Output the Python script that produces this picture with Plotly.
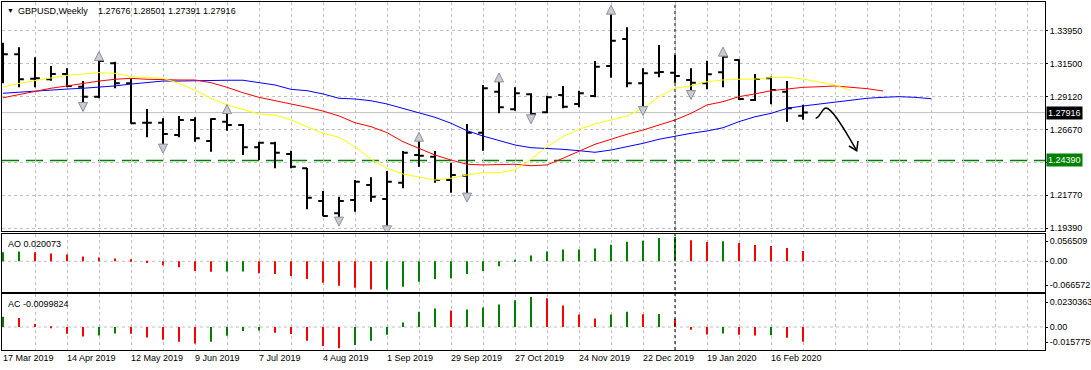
import pandas as pd
import plotly.graph_objects as go

# ---------------- data ----------------
START_DATE = "2019-03-17"
N_SLOTS = 66          # weekly slots spanned by the visible time axis

OPEN = [1.3253, 1.3221, 1.3041, 1.3037, 1.3076, 1.2982, 1.2909, 1.3155, 1.3007, 1.2717,
        1.2717, 1.2627, 1.2737, 1.2582, 1.2725, 1.2700, 1.2536, 1.2565, 1.2487, 1.2381,
        1.2140, 1.2050, 1.2148, 1.2258, 1.2155, 1.2275, 1.2479, 1.2467, 1.2295, 1.2327,
        1.2643, 1.2946, 1.2816, 1.2926, 1.2794, 1.2921, 1.2855, 1.2914, 1.3135, 1.3334,
        1.3007, 1.3086, 1.3086, 1.3032, 1.3007, 1.3089, 1.3179, 1.2884, 1.3044, 1.2946,
        1.27676]
HIGH = [1.3307, 1.3273, 1.3199, 1.3135, 1.3118, 1.3024, 1.3176, 1.3167, 1.3044, 1.2818,
        1.2750, 1.2767, 1.2757, 1.2750, 1.2786, 1.2708, 1.2577, 1.2577, 1.2511, 1.2384,
        1.2214, 1.2172, 1.2295, 1.2315, 1.2361, 1.2509, 1.2582, 1.2509, 1.2422, 1.2708,
        1.2995, 1.3019, 1.2978, 1.2934, 1.2916, 1.2988, 1.2953, 1.3172, 1.3518, 1.3420,
        1.3118, 1.3290, 1.3216, 1.3118, 1.3174, 1.3209, 1.3184, 1.3076, 1.3056, 1.3024,
        1.28501]
LOW = [1.3007, 1.2978, 1.2978, 1.3027, 1.2978, 1.2865, 1.2897, 1.2971, 1.2710, 1.2610,
       1.2558, 1.2610, 1.2577, 1.2504, 1.2658, 1.2479, 1.2442, 1.2381, 1.2381, 1.2079,
       1.2028, 1.2020, 1.2061, 1.2135, 1.1956, 1.2234, 1.2393, 1.2275, 1.2201, 1.2197,
       1.2511, 1.2786, 1.2806, 1.2774, 1.2786, 1.2823, 1.2831, 1.2904, 1.3049, 1.2978,
       1.2835, 1.3052, 1.3012, 1.2953, 1.2963, 1.2978, 1.2884, 1.2877, 1.2853, 1.2725,
       1.27391]
CLOSE = [1.3221, 1.3037, 1.3044, 1.3076, 1.2988, 1.2909, 1.3172, 1.3007, 1.2713, 1.2717,
         1.2634, 1.2737, 1.2602, 1.2744, 1.2700, 1.2536, 1.2570, 1.2496, 1.2393, 1.2165,
         1.2030, 1.2140, 1.2282, 1.2172, 1.2282, 1.2496, 1.2474, 1.2295, 1.2332, 1.2644,
         1.2971, 1.2831, 1.2934, 1.2781, 1.2904, 1.2835, 1.2934, 1.3130, 1.3321, 1.3007,
         1.3081, 1.3090, 1.3061, 1.3012, 1.3074, 1.3203, 1.2892, 1.3039, 1.2958, 1.2823,
         1.27916]

# Alligator lines (drawn shifted into the future)
LIPS = [1.2980, 1.3007, 1.3027, 1.3049, 1.3066, 1.3076, 1.3086, 1.3081, 1.3056, 1.3049,
        1.3044, 1.3007, 1.2958, 1.2897, 1.2848, 1.2816, 1.2781, 1.2774, 1.2737, 1.2688,
        1.2639, 1.2610, 1.2540, 1.2448, 1.2381, 1.2339, 1.2315, 1.2295, 1.2308, 1.2332,
        1.2349, 1.2349, 1.2369, 1.2448, 1.2540, 1.2614, 1.2669, 1.2708, 1.2737, 1.2767,
        1.2823, 1.2909, 1.2971, 1.2988, 1.3019, 1.3032, 1.3037, 1.3039, 1.3049, 1.3052,
        1.3039, 1.3019, 1.2995, 1.2953]
TEETH = [1.2901, 1.2926, 1.2951, 1.2971, 1.2988, 1.3007, 1.3024, 1.3037, 1.3044, 1.3037,
         1.3032, 1.3032, 1.3032, 1.3012, 1.2978, 1.2938, 1.2904, 1.2877, 1.2855, 1.2831,
         1.2803, 1.2767, 1.2717, 1.2688, 1.2644, 1.2577, 1.2529, 1.2479, 1.2442, 1.2411,
         1.2406, 1.2411, 1.2411, 1.2400, 1.2406, 1.2455, 1.2504, 1.2558, 1.2595, 1.2632,
         1.2663, 1.2700, 1.2737, 1.2786, 1.2848, 1.2872, 1.2909, 1.2929, 1.2953, 1.2965,
         1.2978, 1.2982, 1.2988, 1.2978, 1.2968, 1.2951]
JAW = [1.2934, 1.2943, 1.2951, 1.2958, 1.2965, 1.2971, 1.2978, 1.2988, 1.3002, 1.3012,
       1.3024, 1.3024, 1.3027, 1.3027, 1.3030, 1.3030, 1.3012, 1.2995, 1.2963, 1.2953,
       1.2929, 1.2897, 1.2892, 1.2879, 1.2855, 1.2823, 1.2786, 1.2757, 1.2713, 1.2658,
       1.2619, 1.2585, 1.2553, 1.2533, 1.2529, 1.2521, 1.2511, 1.2499, 1.2516, 1.2540,
       1.2565, 1.2595, 1.2619, 1.2639, 1.2656, 1.2680, 1.2725, 1.2761, 1.2786, 1.2823,
       1.2840, 1.2855, 1.2872, 1.2884, 1.2897, 1.2904, 1.2909, 1.2904, 1.2894]

AO = [0.0193, 0.0207, 0.0193, 0.0166, 0.0145, 0.0104, 0.0083, 0.0062, 0.0041, -0.0035,
      -0.0083, -0.0124, -0.0207, -0.0221, -0.0218, -0.0215, -0.0256, -0.0270, -0.0311, -0.0373,
      -0.0456, -0.0518, -0.0560, -0.0601, -0.0598, -0.0539, -0.0435, -0.0373, -0.0359, -0.0270,
      -0.0207, -0.0104, 0.0021, 0.0124, 0.0207, 0.0249, 0.0251, 0.0270, 0.0352, 0.0415,
      0.0435, 0.0495, 0.0516, 0.0446, 0.0410, 0.0424, 0.0389, 0.0347, 0.0325, 0.0283,
      0.0219]
AC = [0.0071, 0.0063, 0.0021, -0.0009, -0.0047, -0.0066, -0.0059, -0.0045, -0.0047, -0.0073,
      -0.0089, -0.0103, -0.0115, -0.0103, -0.0061, -0.0028, -0.0025, -0.0040, -0.0049, -0.0096,
      -0.0132, -0.0148, -0.0125, -0.0096, -0.0054, 0.0031, 0.0106, 0.0129, 0.0115, 0.0122,
      0.0136, 0.0157, 0.0186, 0.0209, 0.0200, 0.0150, 0.0087, 0.0059, 0.0087, 0.0106,
      0.0089, 0.0091, 0.0056, -0.0019, -0.0053, -0.0046, -0.0054, -0.0060, -0.0058, -0.0075,
      -0.0102]

UP_FRACTALS = [6, 14, 26, 31, 38, 45]
DOWN_FRACTALS = [5, 10, 21, 24, 29, 33, 40, 43]

SUPPORT_LEVEL = 1.2439
LAST_PRICE = 1.27916
MARKED_BAR = 42

PRICE_TICKS = [1.3395, 1.31524, 1.29098, 1.26672, 1.24246, 1.2182, 1.19394]
# the 1.24240 grid label is hidden behind the support-level tag in the reference
PRICE_TICK_TEXT = ["1.33950", "1.31500", "1.29120", "1.26670", "", "1.21770", "1.19390"]
AO_TICKS = [0.04244, 0.0, -0.05093]
AO_TICK_TEXT = ["0.056509", "0.00", "-0.066572"]
AC_TICKS = [0.01722, 0.0, -0.01046]
AC_TICK_TEXT = ["0.0230363", "0.00", "-0.0157759"]

DATE_TICK_BARS = [0, 4, 8, 12, 16, 20, 24, 28, 32, 36, 40, 44, 48]
DATE_TICK_TEXT = ["17 Mar 2019", "14 Apr 2019", "12 May 2019", "9 Jun 2019", "7 Jul 2019",
                  "4 Aug 2019", "1 Sep 2019", "29 Sep 2019", "27 Oct 2019", "24 Nov 2019",
                  "22 Dec 2019", "19 Jan 2020", "16 Feb 2020"]

TITLE_SYMBOL = "GBPUSD,Weekly"
TITLE_VALUES = "1.27676 1.28501 1.27391 1.27916"
AO_LABEL = "AO 0.020073"
AC_LABEL = "AC -0.0099824"

# ---------------- geometry / style ----------------
W, H = 1091, 370
ML, MR, MT, MB = 2, 46, 2, 20
PLOT_W = W - ML - MR
PLOT_H = H - MT - MB


def px_x(px):
    return (px - ML) / PLOT_W


def px_y(py):
    return (H - MB - py) / PLOT_H


FONT = "Liberation Sans, Arial, sans-serif"
GRID = "#C0C0C0"
GREEN = "#008000"
RED = "#FF0000"

dates = pd.date_range(START_DATE, periods=N_SLOTS, freq="7D")
n = len(CLOSE)
bar_dates = dates[:n]
week = pd.Timedelta(days=7)
x_range = [dates[0] - week * 0.0625, dates[0] + week * 65.125]
grid_dates = list(dates[::2])
bar_w_ms = 7 * 24 * 3600 * 1000 / 8

fig = go.Figure()

# Alligator lines
fig.add_trace(go.Scatter(x=dates[:len(JAW)], y=JAW, mode="lines",
                         line=dict(color="#0000FF", width=1), xaxis="x", yaxis="y"))
fig.add_trace(go.Scatter(x=dates[:len(TEETH)], y=TEETH, mode="lines",
                         line=dict(color="#FF0000", width=1), xaxis="x", yaxis="y"))
fig.add_trace(go.Scatter(x=dates[:len(LIPS)], y=LIPS, mode="lines",
                         line=dict(color="#FFFF00", width=1), xaxis="x", yaxis="y"))

# Price bars
fig.add_trace(go.Ohlc(x=bar_dates, open=OPEN, high=HIGH, low=LOW, close=CLOSE,
                      increasing=dict(line=dict(color="black", width=2)),
                      decreasing=dict(line=dict(color="black", width=2)),
                      tickwidth=0.3, xaxis="x", yaxis="y"))

# Fractals
FRACTAL_GAP = 0.0065
fractal_marker = dict(size=9, color="#C8CCD4", line=dict(color="#8C9098", width=1))
fig.add_trace(go.Scatter(x=[dates[i] for i in UP_FRACTALS],
                         y=[HIGH[i] + FRACTAL_GAP for i in UP_FRACTALS],
                         mode="markers", marker=dict(symbol="arrow-up", **fractal_marker),
                         xaxis="x", yaxis="y"))
fig.add_trace(go.Scatter(x=[dates[i] for i in DOWN_FRACTALS],
                         y=[LOW[i] - FRACTAL_GAP for i in DOWN_FRACTALS],
                         mode="markers", marker=dict(symbol="arrow-down", **fractal_marker),
                         xaxis="x", yaxis="y"))


def hist_colors(vals):
    return [GREEN if i == 0 or vals[i] > vals[i - 1] else RED for i in range(len(vals))]


fig.add_trace(go.Bar(x=bar_dates, y=AO, width=bar_w_ms,
                     marker=dict(color=hist_colors(AO), line=dict(width=0)),
                     xaxis="x2", yaxis="y2"))
fig.add_trace(go.Bar(x=bar_dates, y=AC, width=bar_w_ms,
                     marker=dict(color=hist_colors(AC), line=dict(width=0)),
                     xaxis="x3", yaxis="y3"))

x_common = dict(type="date", range=x_range, showgrid=True, gridcolor=GRID, griddash="3px,3px",
                gridwidth=1, tickmode="array", tickvals=grid_dates, showticklabels=False,
                ticks="", showline=True, mirror=True, linecolor="black", linewidth=1,
                zeroline=False)
y_common = dict(side="right", showline=True, mirror=True, linecolor="black", linewidth=1,
                zeroline=False, tickmode="array", ticks="outside", ticklen=2, tickcolor="black",
                tickfont=dict(family=FONT, size=9, color="black"))

main_dom = [px_y(230.7), 1.0]
ao_dom = [px_y(291.7), px_y(233.7)]
ac_dom = [0.0, px_y(294.3)]

fig.update_layout(
    width=W, height=H, margin=dict(l=ML, r=MR, t=MT, b=MB, autoexpand=False),
    paper_bgcolor="white", plot_bgcolor="white", showlegend=False,
    font=dict(family=FONT, size=9, color="black"),
    xaxis=dict(**x_common, anchor="y", domain=[0, 1], rangeslider=dict(visible=False)),
    xaxis2=dict(**x_common, anchor="y2", domain=[0, 1], matches="x"),
    xaxis3=dict(**x_common, anchor="y3", domain=[0, 1], matches="x"),
    yaxis=dict(**y_common, anchor="x", domain=main_dom, range=[1.19214, 1.36065],
               tickvals=PRICE_TICKS, ticktext=PRICE_TICK_TEXT,
               showgrid=True, gridcolor=GRID, griddash="3px,3px", gridwidth=1),
    yaxis2=dict(**y_common, anchor="x2", domain=ao_dom, range=[-0.06451, 0.05857],
                tickvals=AO_TICKS, ticktext=AO_TICK_TEXT, showgrid=False),
    yaxis3=dict(**y_common, anchor="x3", domain=ac_dom, range=[-0.01603, 0.02279],
                tickvals=AC_TICKS, ticktext=AC_TICK_TEXT, showgrid=False),
)

shapes = [
    dict(type="line", xref="paper", yref="y", x0=0, x1=1, y0=LAST_PRICE, y1=LAST_PRICE,
         line=dict(color=GRID, width=1), layer="between"),
    dict(type="line", xref="paper", yref="y", x0=0, x1=1, y0=SUPPORT_LEVEL, y1=SUPPORT_LEVEL,
         line=dict(color="#007F00", width=1.5, dash="17px,7px"), layer="between"),
    dict(type="line", xref="paper", yref="y2", x0=0, x1=1, y0=0, y1=0,
         line=dict(color=GRID, width=1, dash="3px,3px"), layer="between"),
    dict(type="line", xref="paper", yref="y3", x0=0, x1=1, y0=0, y1=0,
         line=dict(color=GRID, width=1, dash="3px,3px"), layer="between"),
    dict(type="line", xref="x", yref="paper", x0=dates[MARKED_BAR], x1=dates[MARKED_BAR], y0=0, y1=1,
         line=dict(color="black", width=1, dash="3px,3px"), layer="above"),
]

# hand-drawn forecast arrow
p = lambda x, y: f"{px_x(x):.5f},{px_y(y):.5f}"
curve = (f"M {p(815.7, 118.3)} C {p(820, 118)} {p(822, 108)} {p(826, 108)} "
         f"C {p(832, 108)} {p(845, 130)} {p(856.7, 150.7)}")
head = f"M {p(849.0, 146.0)} L {p(856.7, 150.7)} L {p(858.0, 141.0)}"
shapes.append(dict(type="path", xref="paper", yref="paper", path=curve,
                   line=dict(color="black", width=1.5)))
shapes.append(dict(type="path", xref="paper", yref="paper", path=head,
                   line=dict(color="black", width=1.5)))
fig.update_layout(shapes=shapes)

ann = []
ann.append(dict(text="▼", xref="paper", yref="paper", x=px_x(5), y=px_y(11), xanchor="left",
                yanchor="middle", showarrow=False, font=dict(size=7, color="black")))
ann.append(dict(text=TITLE_SYMBOL, xref="paper", yref="paper", x=px_x(16), y=px_y(11),
                xanchor="left", yanchor="middle", showarrow=False))
ann.append(dict(text=TITLE_VALUES, xref="paper", yref="paper", x=px_x(95.7), y=px_y(11),
                xanchor="left", yanchor="middle", showarrow=False))
ann.append(dict(text=AO_LABEL, xref="paper", yref="paper", x=px_x(5.6), y=px_y(243.5),
                xanchor="left", yanchor="middle", showarrow=False))
ann.append(dict(text=AC_LABEL, xref="paper", yref="paper", x=px_x(5.6), y=px_y(304.1),
                xanchor="left", yanchor="middle", showarrow=False))
ann.append(dict(text=f"{LAST_PRICE:.5f}", xref="paper", yref="y", x=1, y=LAST_PRICE,
                xanchor="left", yanchor="middle", xshift=1, showarrow=False,
                bgcolor="black", borderpad=1, font=dict(color="white", size=9)))
ann.append(dict(text=f"{SUPPORT_LEVEL:.5f}", xref="paper", yref="y", x=1, y=SUPPORT_LEVEL,
                xanchor="left", yanchor="middle", xshift=1, showarrow=False,
                bgcolor=GREEN, borderpad=1, font=dict(color="white", size=9)))
for i, t in zip(DATE_TICK_BARS, DATE_TICK_TEXT):
    ann.append(dict(text=t, xref="x3", yref="paper", x=dates[i], y=px_y(357.5),
                    xanchor="left", yanchor="middle", xshift=-2, showarrow=False))
fig.update_layout(annotations=ann)

fig.write_html("out.html", config={"displayModeBar": False},
               post_script="document.body.style.margin='0px';document.body.style.padding='0px';")
